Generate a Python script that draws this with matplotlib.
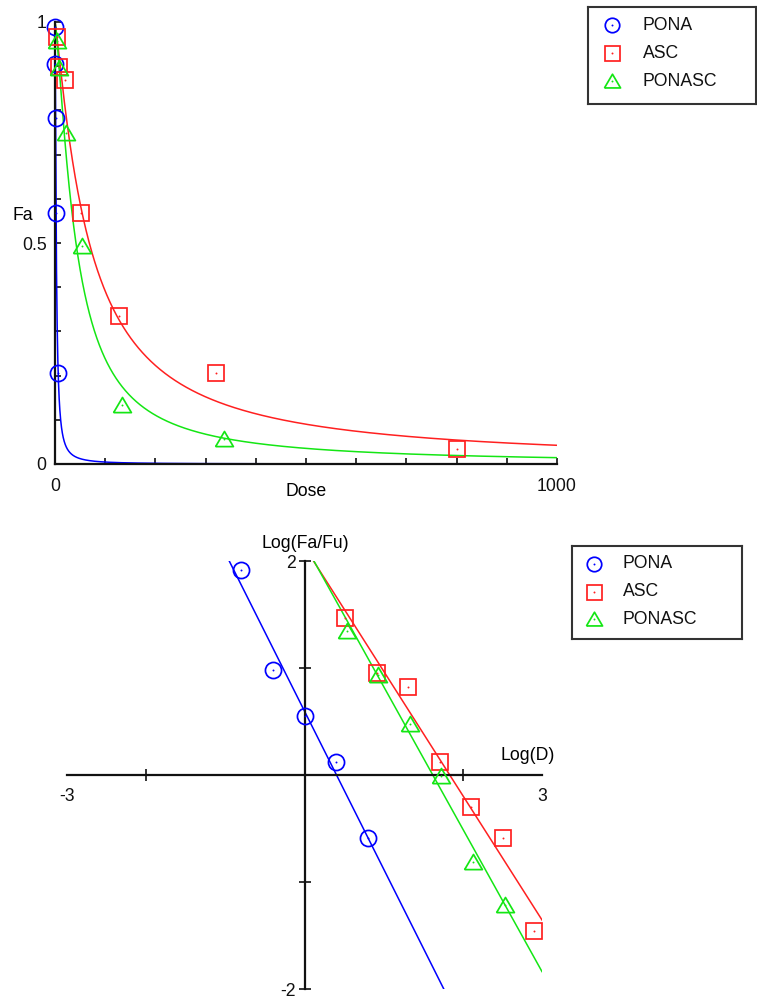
import numpy as np
import matplotlib
matplotlib.use("Agg")
import matplotlib.pyplot as plt

plt.rcParams["font.family"] = ["Liberation Sans", "DejaVu Sans"]
FS = 12.7

# Dose-effect data (dose, fraction affected)
pona_dose = [0.16, 0.4, 1.0, 2.5, 6.25]
pona_fa = [0.988, 0.906, 0.782, 0.568, 0.205]
asc_dose = [3.28, 8.19, 20.48, 51.2, 128, 320, 800]
asc_fa = [0.967, 0.899, 0.869, 0.568, 0.335, 0.206, 0.034]
ponasc_dose = [3.44, 8.6, 21.5, 53.76, 134.4, 336]
ponasc_fa = [0.957, 0.895, 0.75, 0.494, 0.133, 0.057]

series_names = ["PONA", "ASC", "PONASC"]
series_dose = [pona_dose, asc_dose, ponasc_dose]
series_fa = [pona_fa, asc_fa, ponasc_fa]
colors = ["#0000FF", "#FF2020", "#14E614"]
tri = [(-1.0, -0.8), (1.0, -0.8), (0.0, 0.9), (-1.0, -0.8)]
markers = ["o", "s", tri]
msizes = [11.6, 12.0, 12.8]

W, H = 757, 1002
fig = plt.figure(figsize=(W / 100, H / 100), dpi=100)


def px_axes(left, top, right, bottom):
    return fig.add_axes([left / W, 1 - bottom / H, (right - left) / W, (bottom - top) / H])


def median_effect(dose, fa):
    x = np.log10(np.asarray(dose, float))
    fa = np.asarray(fa, float)
    y = np.log10(fa / (1 - fa))
    m, b = np.polyfit(x, y, 1)
    return x, y, m, b


def draw_points(ax, x, y, color, marker, ms):
    ax.plot(x, y, linestyle="none", marker=marker, ms=ms, mfc="none",
            mec=color, mew=1.25, zorder=4, clip_on=False)
    ax.plot(x, y, linestyle="none", marker="o", ms=1.4, mfc=color,
            mec="none", zorder=4, clip_on=False)


def draw_key(box, mx, tx, rows):
    x0, y0, x1, y1 = box
    kax = px_axes(x0, y0, x1, y1)
    kax.set_xlim(x0, x1)
    kax.set_ylim(y1, y0)
    kax.set_xticks([])
    kax.set_yticks([])
    for s in kax.spines.values():
        s.set_linewidth(1.5)
        s.set_color("#333333")
    for name, c, mk, ms, ry in zip(series_names, colors, markers, msizes, rows):
        draw_points(kax, [mx], [ry], c, mk, ms - 1.2)
        kax.text(tx, ry, name, fontsize=FS, va="center", ha="left", color="#111111")


# ---------------- Dose-effect curves ----------------
ax1 = px_axes(55, 22, 557, 464)
ax1.set_xlim(0, 1000)
ax1.set_ylim(0, 1)
for side in ("top", "right"):
    ax1.spines[side].set_visible(False)
for side in ("left", "bottom"):
    ax1.spines[side].set_linewidth(1.6)
    ax1.spines[side].set_color("#111111")
    ax1.spines[side].set_zorder(3)

dgrid = np.concatenate([np.geomspace(1e-3, 1, 300), np.linspace(1, 1000, 3000)])
for d, f, c, mk, ms in zip(series_dose, series_fa, colors, markers, msizes):
    _, _, m, b = median_effect(d, f)
    fa_curve = 1.0 / (1.0 + 10 ** (-(m * np.log10(dgrid) + b)))
    ax1.plot(dgrid, fa_curve, color=c, lw=1.1, zorder=2)
    draw_points(ax1, d, f, c, mk, ms)

xt = np.arange(0, 1001, 100)
ax1.set_xticks(xt)
ax1.set_xticklabels(["0"] + [""] * 9 + ["1000"])
yt = np.round(np.arange(0, 1.001, 0.1), 1)
ax1.set_yticks(yt)
ax1.set_yticklabels(["0", "", "", "", "", "0.5", "", "", "", "", "1"])
ax1.tick_params(axis="x", direction="in", length=4, width=1.2, pad=10,
                labelsize=FS, colors="#111111")
ax1.tick_params(axis="y", direction="in", length=4, width=1.2, pad=6,
                labelsize=FS, colors="#111111")
ax1.set_xlabel("Dose", fontsize=FS, va="center")
ax1.xaxis.set_label_coords(0.5, (464 - 492) / 442)
ax1.set_ylabel("Fa", fontsize=FS, rotation=0, ha="center", va="center")
ax1.yaxis.set_label_coords((23 - 55) / 502, (464 - 215) / 442)

draw_key((588, 7, 756, 104), 612, 643, [25, 53, 81])

# ---------------- Median-effect plot ----------------
ax2 = px_axes(67, 561, 542, 989)
ax2.set_xlim(-3, 3)
ax2.set_ylim(-2, 2)
for side in ("top", "right"):
    ax2.spines[side].set_visible(False)
for side in ("left", "bottom"):
    ax2.spines[side].set_position("zero")
    ax2.spines[side].set_linewidth(1.6)
    ax2.spines[side].set_color("#111111")

xline = np.linspace(-3, 3, 200)
for d, f, c, mk, ms in zip(series_dose, series_fa, colors, markers, msizes):
    x, y, m, b = median_effect(d, f)
    ax2.plot(xline, m * xline + b, color=c, lw=1.1, zorder=2)
    draw_points(ax2, x, y, c, mk, ms)

ax2.set_xticks([-3, -2, 2, 3])
ax2.set_xticklabels(["-3", "", "", "3"])
ax2.set_yticks([-2, -1, 1, 2])
ax2.set_yticklabels(["-2", "", "", "2"])
ax2.tick_params(axis="both", direction="inout", length=9, width=1.2,
                labelsize=FS, colors="#111111")
ax2.tick_params(axis="x", pad=5)
ax2.tick_params(axis="y", pad=2)
xticks = ax2.xaxis.get_major_ticks()
for i in (0, 3):
    xticks[i].tick1line.set_visible(False)

ax2.set_ylabel("Log(Fa/Fu)", fontsize=FS, rotation=0, ha="center", va="center")
ax2.yaxis.set_label_coords((305 - 67) / 475, (989 - 543) / 428)
ax2.set_xlabel("Log(D)", fontsize=FS, ha="center", va="center")
ax2.xaxis.set_label_coords((528 - 67) / 475, (989 - 755) / 428)

draw_key((572, 546, 742, 639), 594, 623, [564, 592, 619])

fig.savefig("out.png", dpi=100, facecolor="white")
